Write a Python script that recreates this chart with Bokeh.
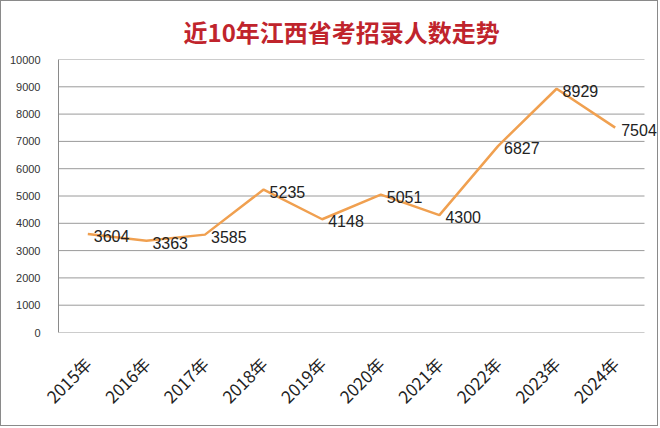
import math
from bokeh.plotting import figure
from bokeh.models import ColumnDataSource, LabelSet, Title, FixedTicker
from bokeh.core.properties import value
from bokeh.embed import file_html
from bokeh.resources import INLINE

years = ["2015年", "2016年", "2017年", "2018年", "2019年", "2020年", "2021年", "2022年", "2023年", "2024年"]
counts = [3604, 3363, 3585, 5235, 4148, 5051, 4300, 6827, 8929, 7504]
y_ticks = [0, 1000, 2000, 3000, 4000, 5000, 6000, 7000, 8000, 9000, 10000]
title_text = "近10年江西省考招录人数走势"

xs = list(range(len(years)))
src = ColumnDataSource(dict(x=xs, y=counts, lbl=[str(v) for v in counts]))

p = figure(width=658, height=426, x_range=(-0.5, 9.756), y_range=(0, 10000),
           output_backend="svg", toolbar_location=None,
           min_border_left=57, min_border_right=0, min_border_top=0, min_border_bottom=95)
p.background_fill_color = "white"
p.outline_line_color = None
p.styles = {"border": "1px solid #8a8a8a"}

t = Title(text=title_text, align="left", text_font="Noto Sans CJK SC", text_font_style="bold",
          text_font_size="24px", text_color="#C0242C", standoff=21, offset=125)
p.add_layout(t, "above")

# horizontal gridlines limited to the plot area
p.segment(x0=[-0.5] * len(y_ticks), x1=[9.5] * len(y_ticks), y0=y_ticks, y1=y_ticks,
          line_color="#9a9a9a", line_width=1)

p.line("x", "y", source=src, line_color="#F0A050", line_width=2.5)

labels = LabelSet(x="x", y="y", text="lbl", source=src, x_offset=6, y_offset=-2,
                  text_baseline="middle", text_align="left", text_font=value("Liberation Sans"),
                  text_font_size=value("16px"), text_color="#222222")
p.add_layout(labels)

p.yaxis.ticker = FixedTicker(ticks=y_ticks)
p.yaxis.major_label_text_font = "Liberation Sans"
p.yaxis.major_label_text_font_size = "11px"
p.yaxis.major_label_text_color = "#333333"
p.yaxis.axis_line_color = "#8a8a8a"
p.yaxis.major_tick_line_color = None
p.yaxis.minor_tick_line_color = None
p.yaxis.major_label_standoff = 12

p.xaxis.ticker = FixedTicker(ticks=xs)
p.xaxis.major_label_overrides = {i: y for i, y in zip(xs, years)}
p.xaxis.major_label_orientation = math.pi / 4
p.xaxis.major_label_text_font = "Noto Sans CJK SC"
p.xaxis.major_label_text_font_size = "17px"
p.xaxis.major_label_text_color = "#222222"
p.xaxis.axis_line_color = None
p.xaxis.major_tick_line_color = None
p.xaxis.minor_tick_line_color = None
p.xaxis.major_label_standoff = 22

p.xgrid.grid_line_color = None
p.ygrid.grid_line_color = None

open("out.html", "w").write(file_html(p, INLINE))
